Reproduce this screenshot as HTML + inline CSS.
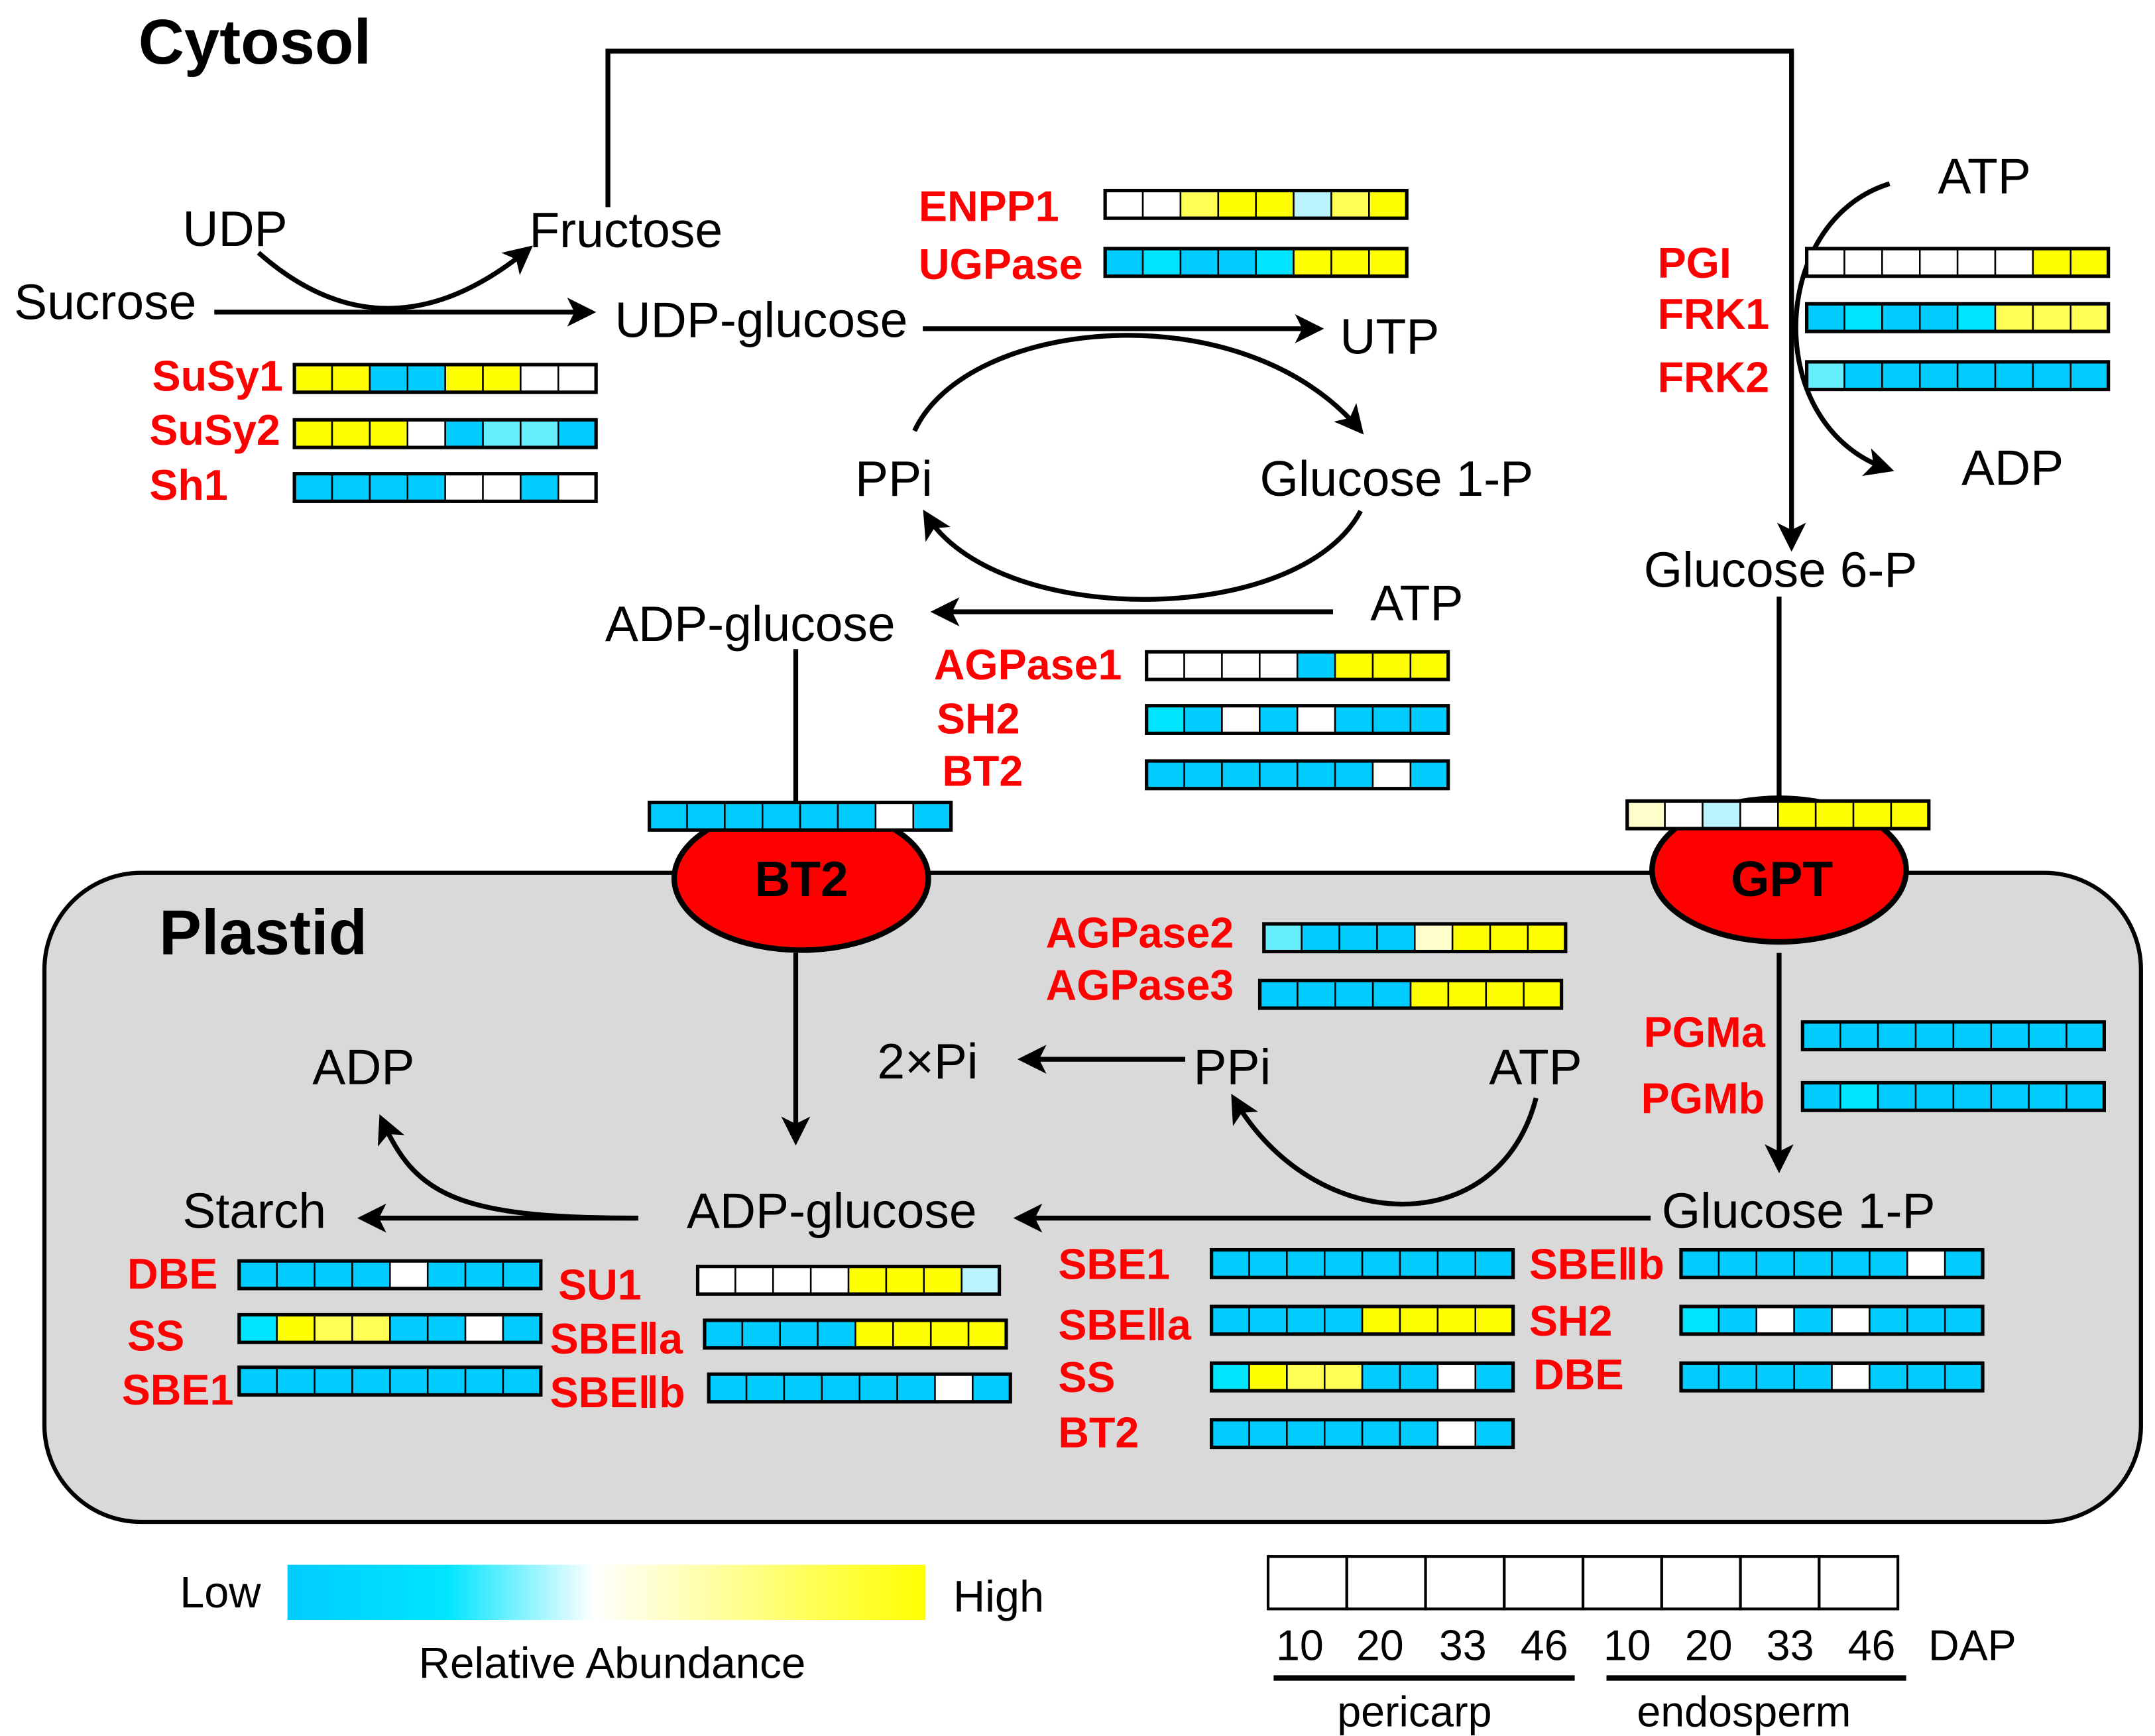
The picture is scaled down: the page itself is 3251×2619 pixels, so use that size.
<!DOCTYPE html>
<html><head><meta charset="utf-8"><style>
html,body{margin:0;padding:0;background:#fff}
svg{display:block}
text{font-family:"Liberation Sans Narrow","Liberation Sans",sans-serif}
.k{font-size:36px;fill:#000}
.r{font-size:31px;font-weight:bold;fill:#f00}
.b{font-weight:bold;fill:#000}
</style></head><body>
<svg id="s" width="3251" height="2619" viewBox="0 0 1560 1257" xmlns="http://www.w3.org/2000/svg">
<defs>
<marker id="a" viewBox="0 0 12 12" refX="10" refY="6" markerWidth="6" markerHeight="6" orient="auto" markerUnits="strokeWidth"><path d="M0,0 L12,6 L0,12 L3,6 Z" fill="#000"/></marker>
<linearGradient id="g" x1="0" x2="1"><stop offset="0" stop-color="#00CCFF"/><stop offset="0.25" stop-color="#00E5FF"/><stop offset="0.48" stop-color="#fff"/><stop offset="1" stop-color="#FFFF00"/></linearGradient>
</defs>
<rect x="32" y="632" width="1518" height="470" rx="70" fill="#d9d9d9" stroke="#000" stroke-width="3"/>
<g fill="none" stroke="#000" stroke-width="3.5">
<polyline points="440,150 440,37 1297,37 1297,396" marker-end="url(#a)"/>
<line x1="1288" y1="432" x2="1288" y2="590"/>
<line x1="576" y1="470" x2="576" y2="590"/>
<line x1="576" y1="690" x2="576" y2="826" marker-end="url(#a)"/>
<line x1="1288" y1="690" x2="1288" y2="846" marker-end="url(#a)"/>
<line x1="155" y1="226" x2="428" y2="226" marker-end="url(#a)"/>
<path d="M187,183 Q280,265 383,180" marker-end="url(#a)"/>
<line x1="668" y1="238" x2="955" y2="238" marker-end="url(#a)"/>
<path d="M662,312 C700,230 900,210 985,312" marker-end="url(#a)"/>
<path d="M985,370 C940,455 720,455 670,372" marker-end="url(#a)"/>
<line x1="965" y1="443" x2="677" y2="443" marker-end="url(#a)"/>
<path d="M1368,133 C1280,160 1275,310 1368,340" marker-end="url(#a)"/>
<line x1="858" y1="767" x2="740" y2="767" marker-end="url(#a)"/>
<path d="M1112,795 C1085,900 950,895 893,795" marker-end="url(#a)"/>
<line x1="1195" y1="882" x2="737" y2="882" marker-end="url(#a)"/>
<line x1="462" y1="882" x2="262" y2="882" marker-end="url(#a)"/>
<path d="M460,882 C330,882 300,865 276,810" marker-end="url(#a)"/>
</g>
<ellipse cx="580" cy="636" rx="92" ry="52" fill="#f00" stroke="#000" stroke-width="4"/>
<ellipse cx="1288" cy="630" rx="92" ry="52" fill="#f00" stroke="#000" stroke-width="4"/>
<g id="bars"></g>
<text class="b" x="100" y="46" font-size="46">Cytosol</text>
<text class="b" x="115" y="691" font-size="46">Plastid</text>
<text class="b" x="580" y="649" font-size="36" text-anchor="middle">BT2</text>
<text class="b" x="1290" y="649" font-size="36" text-anchor="middle">GPT</text>
<g class="k">
<text class="k" x="132" y="178">UDP</text>
<text class="k" x="383" y="179">Fructose</text>
<text class="k" x="10" y="231">Sucrose</text>
<text class="k" x="445" y="244">UDP-glucose</text>
<text class="k" x="970" y="256">UTP</text>
<text class="k" x="619" y="359">PPi</text>
<text class="k" x="912" y="359">Glucose 1-P</text>
<text class="k" x="438" y="464">ADP-glucose</text>
<text class="k" x="992" y="449">ATP</text>
<text class="k" x="1403" y="140">ATP</text>
<text class="k" x="1420" y="351">ADP</text>
<text class="k" x="1190" y="425">Glucose 6-P</text>
<text class="k" x="635" y="781">2×Pi</text>
<text class="k" x="864" y="785">PPi</text>
<text class="k" x="1078" y="785">ATP</text>
<text class="k" x="226" y="785">ADP</text>
<text class="k" x="132" y="889">Starch</text>
<text class="k" x="497" y="889">ADP-glucose</text>
<text class="k" x="1203" y="889">Glucose 1-P</text>
</g>
<text class="r" x="665" y="160">ENPP1</text>
<text class="r" x="665" y="202">UGPase</text>
<text class="r" x="110" y="283">SuSy1</text>
<text class="r" x="108" y="322">SuSy2</text>
<text class="r" x="108" y="362">Sh1</text>
<text class="r" x="1200" y="201">PGI</text>
<text class="r" x="1200" y="238">FRK1</text>
<text class="r" x="1200" y="284">FRK2</text>
<text class="r" x="676" y="492">AGPase1</text>
<text class="r" x="678" y="531">SH2</text>
<text class="r" x="682" y="569">BT2</text>
<text class="r" x="757" y="686">AGPase2</text>
<text class="r" x="757" y="724">AGPase3</text>
<text class="r" x="1190" y="758">PGMa</text>
<text class="r" x="1188" y="806">PGMb</text>
<text class="r" x="92" y="933">DBE</text>
<text class="r" x="92" y="978">SS</text>
<text class="r" x="88" y="1017">SBE1</text>
<text class="r" x="404" y="941">SU1</text>
<text class="r" x="398" y="980">SBEⅡa</text>
<text class="r" x="398" y="1019">SBEⅡb</text>
<text class="r" x="766" y="926">SBE1</text>
<text class="r" x="766" y="970">SBEⅡa</text>
<text class="r" x="766" y="1008">SS</text>
<text class="r" x="766" y="1048">BT2</text>
<text class="r" x="1107" y="926">SBEⅡb</text>
<text class="r" x="1107" y="967">SH2</text>
<text class="r" x="1110" y="1006">DBE</text>
<rect x="208" y="1133" width="462" height="40" fill="url(#g)"/>
<text x="130" y="1164" font-size="32">Low</text>
<text x="690" y="1167" font-size="32">High</text>
<text x="303" y="1215" font-size="31.5">Relative Abundance</text>
<g fill="#fff" stroke="#000" stroke-width="2">
<rect x="918" y="1127" width="57" height="38"/><rect x="975" y="1127" width="57" height="38"/><rect x="1032" y="1127" width="57" height="38"/><rect x="1089" y="1127" width="57" height="38"/><rect x="1146" y="1127" width="57" height="38"/><rect x="1203" y="1127" width="57" height="38"/><rect x="1260" y="1127" width="57" height="38"/><rect x="1317" y="1127" width="57" height="38"/>
</g>
<g font-size="31" text-anchor="middle">
<text x="941" y="1202">10</text><text x="999" y="1202">20</text><text x="1059" y="1202">33</text><text x="1118" y="1202">46</text><text x="1178" y="1202">10</text><text x="1237" y="1202">20</text><text x="1296" y="1202">33</text><text x="1355" y="1202">46</text>
</g>
<text x="1396" y="1202" font-size="31">DAP</text>
<line x1="922" y1="1215" x2="1140" y2="1215" stroke="#000" stroke-width="4"/>
<line x1="1163" y1="1215" x2="1380" y2="1215" stroke="#000" stroke-width="4"/>
<text x="968" y="1250" font-size="31">pericarp</text>
<text x="1185" y="1250" font-size="31">endosperm</text>
</svg>
<script>
var C={B:"#00CCFF",C:"#00E5FF",W:"#FFFFFF",Y:"#FFFF00",L:"#FFFF55",P:"#FFFFCC",A:"#BBF3FF",M:"#66EEFF"};
var bars=[
[800,138,"WWLYYALY"],[800,180,"BCBBCYYY"],[213,264,"YYBBYYWW"],[213,304,"YYYWBMMB"],[213,343,"BBBBWWBW"],
[1308,180,"WWWWWWYY"],[1308,220,"BCBBCLLL"],[1308,262,"MBBBBBBB"],[830,472,"WWWWBYYY"],[830,511,"CBWBWBBB"],[830,551,"BBBBBBWB"],
[470,581,"BBBBBBWB"],[1178,580,"PWAWYYYY"],[915,669,"MBBBPYYY"],[912,710,"BBBBYYYY"],[1305,740,"BBBBBBBB"],[1305,784,"BCBBBBBB"],
[173,913,"BBBBWBBB"],[173,952,"CYLLBBWB"],[173,990,"BBBBBBBB"],[505,917,"WWWWYYYA"],[510,956,"BBBBYYYY"],[513,995,"BBBBBBWB"],
[877,905,"BBBBBBBB"],[877,946,"BBBBYYYY"],[877,987,"CYLLBBWB"],[877,1028,"BBBBBBWB"],[1217,905,"BBBBBBWB"],[1217,946,"CBWBWBBB"],[1217,987,"BBBBWBBB"]];
var g=document.getElementById("bars"),ns="http://www.w3.org/2000/svg";
bars.forEach(function(b){for(var i=0;i<8;i++){var r=document.createElementNS(ns,"rect");r.setAttribute("x",b[0]+i*27.3);r.setAttribute("y",b[1]);r.setAttribute("width",27.3);r.setAttribute("height",20);r.setAttribute("fill",C[b[2][i]]);r.setAttribute("stroke","#000");r.setAttribute("stroke-width","1.2");g.appendChild(r);}
var o=document.createElementNS(ns,"rect");o.setAttribute("x",b[0]);o.setAttribute("y",b[1]);o.setAttribute("width",218.4);o.setAttribute("height",20);o.setAttribute("fill","none");o.setAttribute("stroke","#000");o.setAttribute("stroke-width","2.5");g.appendChild(o);});
</script>
</body></html>
